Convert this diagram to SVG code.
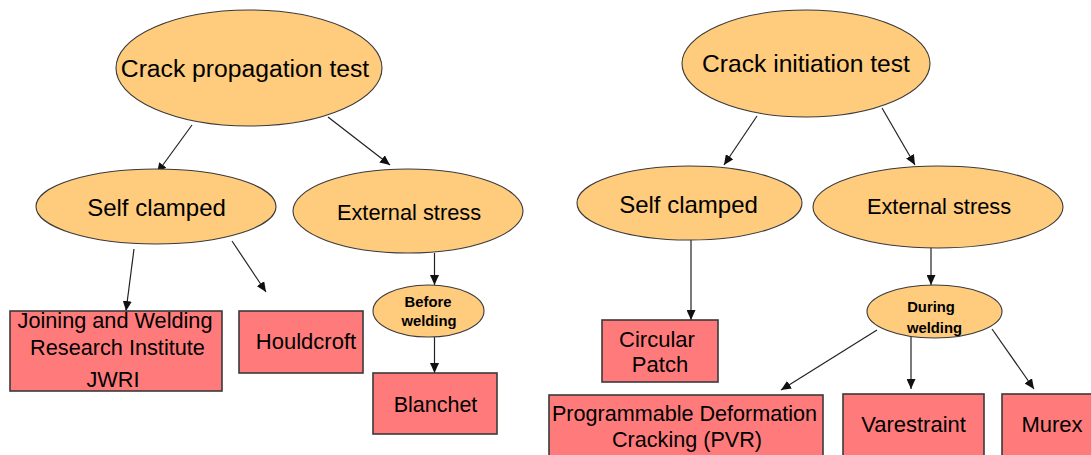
<svg xmlns="http://www.w3.org/2000/svg" width="1091" height="455" viewBox="0 0 1091 455">
<defs>
<marker id="arr" markerUnits="userSpaceOnUse" markerWidth="11" markerHeight="9" refX="10" refY="4.5" orient="auto">
<path d="M0,0 L10,4.5 L0,9 z" fill="#111"/>
</marker>
<style>
.el{fill:#FFCB7D;stroke:#3a3a3a;stroke-width:1.1}
.bx{fill:#FF7B7B;stroke:#3a3a3a;stroke-width:1.6}
.t{font-family:"Liberation Sans",Arial,sans-serif;fill:#000;text-anchor:middle}
.b{font-family:"Liberation Sans",Arial,sans-serif;font-weight:bold;fill:#000;text-anchor:middle;font-size:14.8px}
.c{stroke:#222;stroke-width:1.2;fill:none;marker-end:url(#arr)}
</style>
</defs>
<rect width="1091" height="455" fill="#fff"/>
<g id="connectors">
<line class="c" x1="192" y1="125" x2="157" y2="173"/>
<line class="c" x1="328" y1="117" x2="390" y2="165"/>
<line class="c" x1="134" y1="249" x2="126" y2="311"/>
<line class="c" x1="232" y1="241" x2="266" y2="292"/>
<line class="c" x1="434.5" y1="253" x2="434.5" y2="285"/>
<line class="c" x1="434.5" y1="337" x2="434.5" y2="373"/>
<line class="c" x1="757" y1="116" x2="724" y2="165"/>
<line class="c" x1="882" y1="108" x2="915" y2="165"/>
<line class="c" x1="691" y1="240" x2="691" y2="320"/>
<line class="c" x1="931" y1="248" x2="931" y2="285"/>
<line class="c" x1="877" y1="330" x2="781" y2="390"/>
<line class="c" x1="911" y1="337" x2="911" y2="389"/>
<line class="c" x1="992" y1="329" x2="1034" y2="389"/>
</g>
<g id="crack-propagation">
<ellipse class="el" cx="249" cy="68" rx="133" ry="58"/>
<text class="t" x="245" y="77" font-size="24.7">Crack propagation test</text>
</g>
<g id="self-clamped-left">
<ellipse class="el" cx="156" cy="206.5" rx="120" ry="37.5"/>
<text class="t" x="156.5" y="216" font-size="24">Self clamped</text>
</g>
<g id="external-stress-left">
<ellipse class="el" cx="408" cy="211" rx="115" ry="42"/>
<text class="t" x="409" y="220" font-size="21.8">External stress</text>
</g>
<g id="before-welding">
<ellipse class="el" cx="428.5" cy="311" rx="55.5" ry="26"/>
<text class="b" x="428" y="307">Before</text>
<text class="b" x="429" y="326">welding</text>
</g>
<g id="jwri">
<rect class="bx" x="10" y="311" width="212" height="80"/>
<text class="t" x="115" y="328" font-size="21.7">Joining and Welding</text>
<text class="t" x="117.5" y="355" font-size="21.7">Research Institute</text>
<text class="t" x="113" y="387" font-size="21.7">JWRI</text>
</g>
<g id="houldcroft">
<rect class="bx" x="239" y="311" width="124" height="62"/>
<text class="t" x="306" y="349" font-size="22">Houldcroft</text>
</g>
<g id="blanchet">
<rect class="bx" x="373" y="373" width="124" height="61"/>
<text class="t" x="435.5" y="412" font-size="21.5">Blanchet</text>
</g>
<g id="crack-initiation">
<ellipse class="el" cx="806" cy="63.5" rx="124" ry="53.5"/>
<text class="t" x="806" y="72" font-size="24.6">Crack initiation test</text>
</g>
<g id="self-clamped-right">
<ellipse class="el" cx="689.5" cy="203" rx="112.5" ry="37"/>
<text class="t" x="688.5" y="213" font-size="24">Self clamped</text>
</g>
<g id="external-stress-right">
<ellipse class="el" cx="938" cy="207" rx="125" ry="41"/>
<text class="t" x="939" y="214" font-size="21.8">External stress</text>
</g>
<g id="during-welding">
<ellipse class="el" cx="934.5" cy="311.5" rx="67.5" ry="26.5"/>
<text class="b" x="931" y="312">During</text>
<text class="b" x="934.5" y="333">welding</text>
</g>
<g id="circular-patch">
<rect class="bx" x="602" y="320" width="116" height="62"/>
<text class="t" x="657" y="347" font-size="22">Circular</text>
<text class="t" x="660" y="372" font-size="22">Patch</text>
</g>
<g id="pvr">
<rect class="bx" x="549" y="395" width="274" height="80"/>
<text class="t" x="684.5" y="421" font-size="21.6">Programmable Deformation</text>
<text class="t" x="687" y="447" font-size="21.6">Cracking (PVR)</text>
</g>
<g id="varestraint">
<rect class="bx" x="843" y="394" width="141" height="80"/>
<text class="t" x="913.5" y="432" font-size="22">Varestraint</text>
</g>
<g id="murex">
<rect class="bx" x="1002" y="394" width="110" height="80"/>
<text class="t" x="1052" y="432" font-size="22">Murex</text>
</g>
</svg>
